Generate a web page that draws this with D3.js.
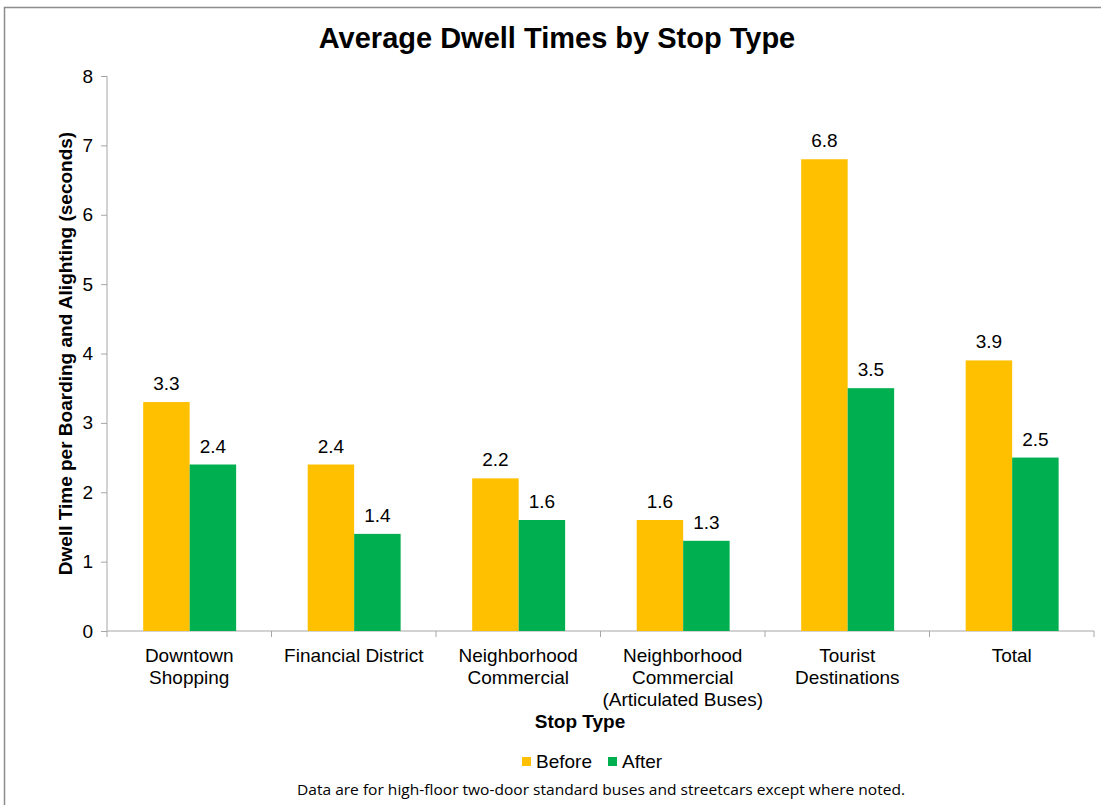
<!DOCTYPE html>
<html>
<head>
<meta charset="utf-8">
<script src="https://cdn.jsdelivr.net/npm/d3@7"></script>
<style>
  body { margin: 0; background: #fff; }
  svg text { font-family: Arial, "Liberation Sans", sans-serif; fill: #000; }
  .axis path, .axis line { stroke: #a6a6a6; }
  .axis text { font-size: 19px; }
</style>
</head>
<body>
<div id="chart"></div>
<script>
// chart data
let categories = [
    ["Downtown", "Shopping"],
    ["Financial District"],
    ["Neighborhood", "Commercial"],
    ["Neighborhood", "Commercial", "(Articulated Buses)"],
    ["Tourist", "Destinations"],
    ["Total"]
];
let seriesNames = ["Before", "After"];
let beforeValues = [3.3, 2.4, 2.2, 1.6, 6.8, 3.9];
let afterValues = [2.4, 1.4, 1.6, 1.3, 3.5, 2.5];
let yTicks = [0, 1, 2, 3, 4, 5, 6, 7, 8];
let colors = ["#FFC000", "#00B050"];

let W = 1101, H = 805;
let margin = {top: 76, right: 7, bottom: 174, left: 107};
let width = W - margin.left - margin.right;
let height = H - margin.top - margin.bottom;

let svg = d3.select("#chart").append("svg")
    .attr("width", W)
    .attr("height", H);

// outer frame (right/bottom edges are cut off in the source)
svg.append("rect")
    .attr("x", 4.5).attr("y", 7.5)
    .attr("width", W + 10).attr("height", H + 10)
    .attr("fill", "none")
    .attr("stroke", "#8c8c8c")
    .attr("stroke-width", 1.5);

let g = svg.append("g")
    .attr("transform", "translate(" + margin.left + "," + margin.top + ")");

let keys = categories.map((c, i) => i);
let x = d3.scaleBand().domain(keys).range([0, width]).paddingInner(0).paddingOuter(0);
let x1 = d3.scaleBand().domain(seriesNames).range([x.bandwidth() * 0.22, x.bandwidth() * 0.785]);
let y = d3.scaleLinear().domain([0, 8]).range([height, 0]);

// y axis
g.append("g")
    .attr("class", "axis")
    .call(d3.axisLeft(y).tickValues(yTicks).tickSize(6).tickPadding(8).tickFormat(d3.format("d")))
    .call(a => a.select(".domain").attr("d", "M0," + height + "V0"));

// x axis: tick marks at category boundaries
let xAxis = g.append("g")
    .attr("class", "axis")
    .attr("transform", "translate(0," + height + ")");
xAxis.append("path")
    .attr("d", "M0,0H" + width)
    .attr("stroke", "#a6a6a6");
xAxis.selectAll("line.sep")
    .data(d3.range(categories.length + 1))
    .join("line")
    .attr("class", "sep")
    .attr("x1", d => d * x.bandwidth())
    .attr("x2", d => d * x.bandwidth())
    .attr("y1", 0).attr("y2", 6);

let labels = xAxis.selectAll("text.cat")
    .data(categories)
    .join("text")
    .attr("class", "cat")
    .attr("text-anchor", "middle")
    .attr("transform", (d, i) => "translate(" + (x(i) + x.bandwidth() / 2) + ",31)");
labels.selectAll("tspan")
    .data(d => d)
    .join("tspan")
    .attr("x", 0)
    .attr("dy", (d, i) => i === 0 ? 0 : 22)
    .text(d => d);

// bars
let rows = categories.map((c, i) => ({i: i, values: [beforeValues[i], afterValues[i]]}));
let groups = g.selectAll("g.grp")
    .data(rows)
    .join("g")
    .attr("class", "grp")
    .attr("transform", d => "translate(" + x(d.i) + ",0)");

groups.selectAll("rect")
    .data(d => d.values.map((v, k) => ({key: seriesNames[k], v: v, k: k})))
    .join("rect")
    .attr("x", d => x1(d.key))
    .attr("y", d => y(d.v))
    .attr("width", x1.bandwidth())
    .attr("height", d => height - y(d.v))
    .attr("fill", d => colors[d.k]);

groups.selectAll("text.val")
    .data(d => d.values.map((v, k) => ({key: seriesNames[k], v: v})))
    .join("text")
    .attr("class", "val")
    .attr("x", d => x1(d.key) + x1.bandwidth() / 2)
    .attr("y", d => y(d.v) - 12)
    .attr("text-anchor", "middle")
    .style("font-size", "19px")
    .text(d => d3.format(".1f")(d.v));

// title
svg.append("text")
    .attr("x", 557).attr("y", 48)
    .attr("text-anchor", "middle")
    .style("font-size", "29px")
    .style("font-weight", "bold")
    .text("Average Dwell Times by Stop Type");

// y axis label
svg.append("text")
    .attr("transform", "translate(72," + (margin.top + height / 2) + ") rotate(-90)")
    .attr("text-anchor", "middle")
    .style("font-size", "19px")
    .style("font-weight", "bold")
    .text("Dwell Time per Boarding and Alighting (seconds)");

// x axis label
svg.append("text")
    .attr("x", 580).attr("y", 728)
    .attr("text-anchor", "middle")
    .style("font-size", "19px")
    .style("font-weight", "bold")
    .text("Stop Type");

// legend
let legend = svg.append("g").attr("transform", "translate(522,768)");
let legendX = [0, 86];
let items = legend.selectAll("g")
    .data(seriesNames)
    .join("g")
    .attr("transform", (d, i) => "translate(" + legendX[i] + ",0)");
items.append("rect")
    .attr("x", 0).attr("y", -11)
    .attr("width", 9).attr("height", 9)
    .attr("fill", (d, i) => colors[i]);
items.append("text")
    .attr("x", 14).attr("y", 0)
    .style("font-size", "19px")
    .text(d => d);

// footnote
svg.append("text")
    .attr("x", 297).attr("y", 795)
    .attr("textLength", 608)
    .attr("lengthAdjust", "spacingAndGlyphs")
    .style("font-family", "'Open Sans', 'Noto Sans', sans-serif")
    .style("font-size", "15px")
    .text("Data are for high-floor two-door standard buses and streetcars except where noted.");
</script>
</body>
</html>
